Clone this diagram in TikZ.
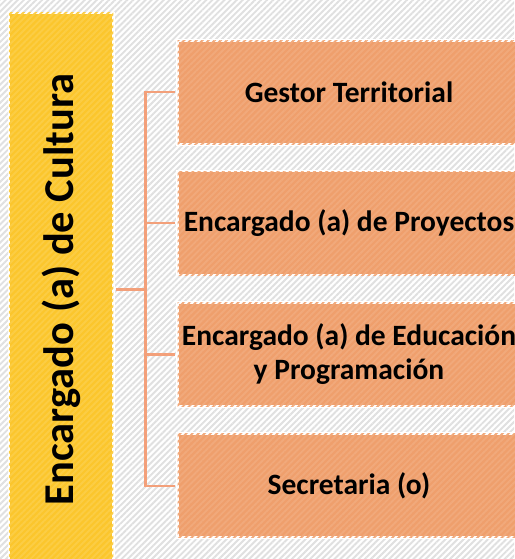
\documentclass[tikz,border=0pt]{standalone}
\usepackage{fontspec}
\setmainfont{Carlito}
\usetikzlibrary{patterns.meta}
\definecolor{bgstripe}{HTML}{E0E0E0}
\definecolor{yellowbox}{HTML}{FBC62C}
\definecolor{orangebox}{HTML}{EF9F6C}
\definecolor{connline}{HTML}{F3A07A}
\tikzset{
  stripes/.style={pattern={Lines[angle=45,distance=4.3pt,line width=1.9pt]}},
  boxbase/.style={draw=white, line width=2.5pt, inner sep=2pt},
  parentbox/.style={boxbase, fill=yellowbox, minimum width=104.5pt, minimum height=553pt,
    postaction={stripes, pattern color=yellowbox!88!white}},
  childbox/.style={boxbase, fill=orangebox, minimum width=343pt, minimum height=104pt,
    postaction={stripes, pattern color=orangebox!90!white},
    font=\fontsize{29.5}{34}\selectfont\bfseries, align=center, text=black},
  conn/.style={draw=connline, line width=2.4pt, shorten <=1.25pt, shorten >=1.25pt}
}
\begin{document}
\begin{tikzpicture}[x=1pt,y=-1pt]
\useasboundingbox (0,0) rectangle (514,559);
\fill[white] (0,0) rectangle (514,559);
\fill[stripes, pattern color=bgstripe] (0,0) rectangle (514,559);
\node[parentbox] (p) at (61.2,289.5) {};
\node[rotate=90, font=\fontsize{42.5}{48}\selectfont\bfseries, text=black] (pt) at (p.center) {Encargado (a) de Cultura};
\node[childbox] (c1) at (349,92.3) {Gestor Territorial};
\node[childbox] (c2) at (349,223) {Encargado (a) de Proyectos};
\node[childbox] (c3) at (349,354.5) {Encargado (a) de Educación\\y Programación};
\node[childbox] (c4) at (349,485.7) {Secretaria (o)};
\coordinate (bus) at (145.3,289.5);
\draw[conn] (p.east) -- (bus);
\draw[conn, shorten <=0pt] (bus) |- (c1.west);
\draw[conn, shorten <=0pt] (bus) |- (c2.west);
\draw[conn, shorten <=0pt] (bus) |- (c3.west);
\draw[conn, shorten <=0pt] (bus) |- (c4.west);
\end{tikzpicture}
\end{document}
